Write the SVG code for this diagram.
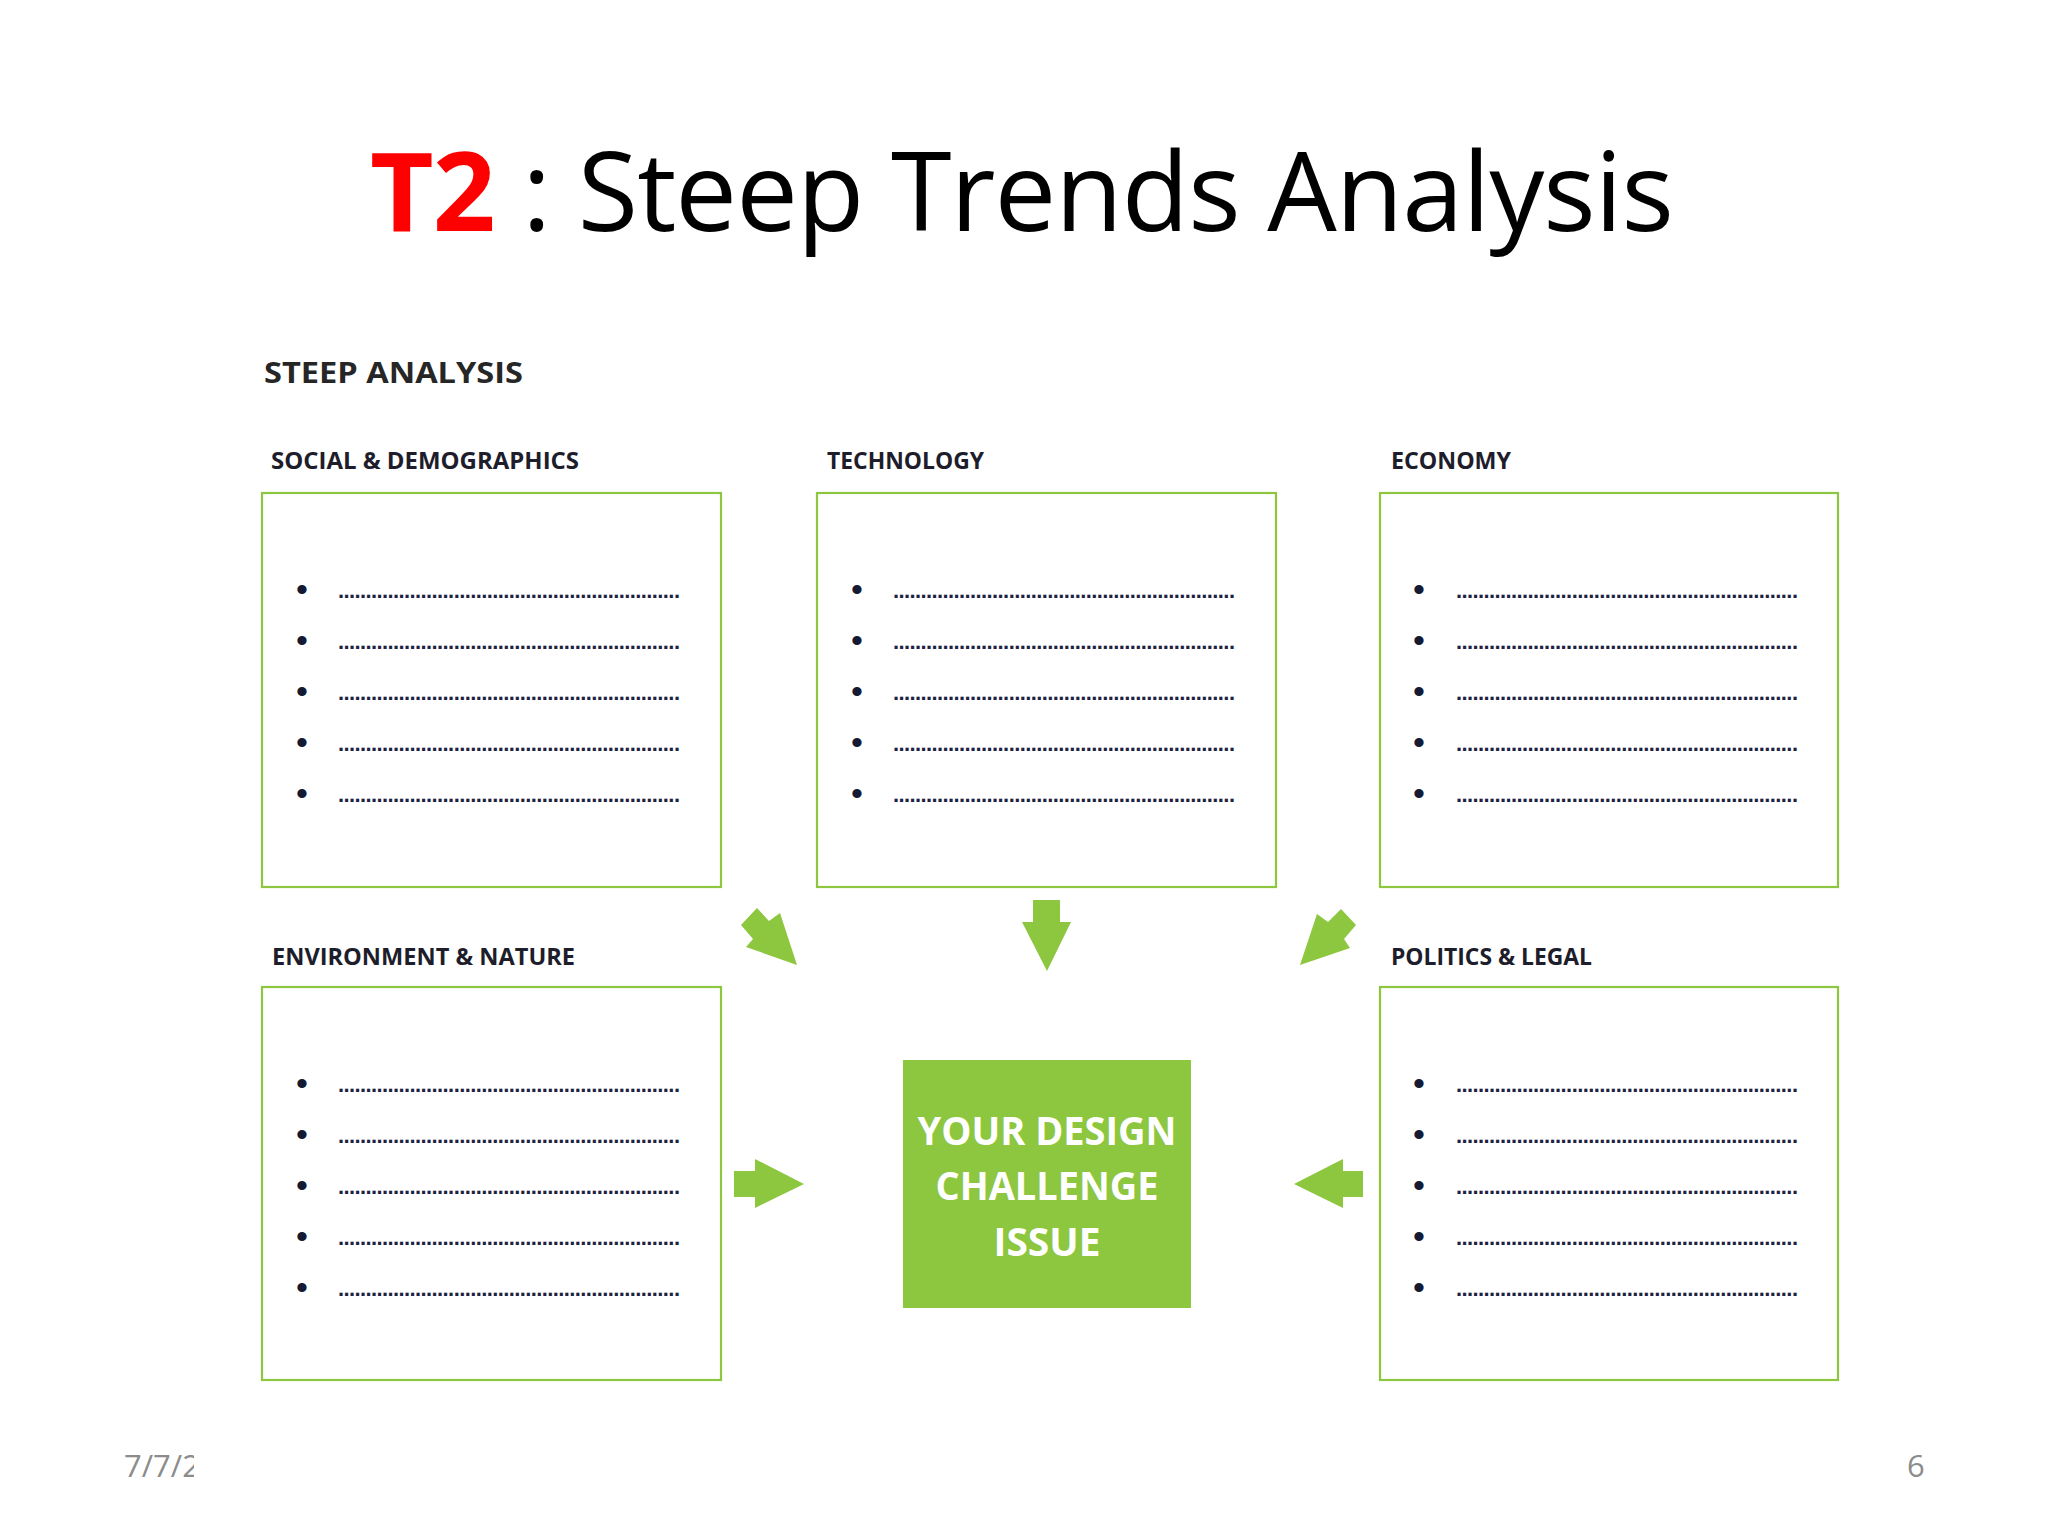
<svg xmlns="http://www.w3.org/2000/svg" width="2048" height="1536" viewBox="0 0 2048 1536">
<defs>
<clipPath id="dateClip"><rect x="100" y="1440" width="94" height="60"/></clipPath>
</defs>
<style>
.box{fill:#ffffff;stroke:#8dc63f;stroke-width:2.2}
.lbl{font-family:"Open Sans","Noto Sans",sans-serif;font-weight:bold;font-size:23px;fill:#1d1d2b}
.bul{font-family:"Liberation Sans",Arial,sans-serif;font-size:34px;fill:#141a33}
.dots{font-family:"Liberation Sans",Arial,sans-serif;font-size:22px;font-weight:bold;fill:#1c2340}
.arrow{fill:#8dc63f}
.ctr{font-family:"Open Sans","Noto Sans",sans-serif;font-weight:bold;font-size:39px;fill:#ffffff;text-anchor:middle}
.foot{font-family:"Open Sans","Noto Sans",sans-serif;font-size:31px;fill:#8c8c8c}
</style>
<rect x="0" y="0" width="2048" height="1536" fill="#ffffff"/>

<g id="title">
<text x="370" y="231" font-family="'Open Sans','Noto Sans',sans-serif" font-size="110" fill="#000000" textLength="1304" lengthAdjust="spacing"><tspan fill="#ff0000" font-weight="bold">T2</tspan> : Steep Trends Analysis</text>
</g>

<g id="heading">
<text x="264" y="383" font-family="'Open Sans','Noto Sans',sans-serif" font-weight="bold" font-size="29" fill="#262626" textLength="259" lengthAdjust="spacingAndGlyphs">STEEP ANALYSIS</text>
</g>

<g id="social">
<text class="lbl" x="271" y="469" textLength="308" lengthAdjust="spacingAndGlyphs">SOCIAL &amp; DEMOGRAPHICS</text>
<rect class="box" x="262" y="493" width="459" height="394"/>
<text class="bul" x="296" y="601">•</text><text class="dots" x="338" y="598" textLength="342" lengthAdjust="spacing">..............................................................</text>
<text class="bul" x="296" y="652">•</text><text class="dots" x="338" y="649" textLength="342" lengthAdjust="spacing">..............................................................</text>
<text class="bul" x="296" y="703">•</text><text class="dots" x="338" y="700" textLength="342" lengthAdjust="spacing">..............................................................</text>
<text class="bul" x="296" y="754">•</text><text class="dots" x="338" y="751" textLength="342" lengthAdjust="spacing">..............................................................</text>
<text class="bul" x="296" y="805">•</text><text class="dots" x="338" y="802" textLength="342" lengthAdjust="spacing">..............................................................</text>
</g>

<g id="technology">
<text class="lbl" x="827" y="469" textLength="157" lengthAdjust="spacingAndGlyphs">TECHNOLOGY</text>
<rect class="box" x="817" y="493" width="459" height="394"/>
<text class="bul" x="851" y="601">•</text><text class="dots" x="893" y="598" textLength="342" lengthAdjust="spacing">..............................................................</text>
<text class="bul" x="851" y="652">•</text><text class="dots" x="893" y="649" textLength="342" lengthAdjust="spacing">..............................................................</text>
<text class="bul" x="851" y="703">•</text><text class="dots" x="893" y="700" textLength="342" lengthAdjust="spacing">..............................................................</text>
<text class="bul" x="851" y="754">•</text><text class="dots" x="893" y="751" textLength="342" lengthAdjust="spacing">..............................................................</text>
<text class="bul" x="851" y="805">•</text><text class="dots" x="893" y="802" textLength="342" lengthAdjust="spacing">..............................................................</text>
</g>

<g id="economy">
<text class="lbl" x="1391" y="469" textLength="120" lengthAdjust="spacingAndGlyphs">ECONOMY</text>
<rect class="box" x="1380" y="493" width="458" height="394"/>
<text class="bul" x="1413" y="601">•</text><text class="dots" x="1456" y="598" textLength="342" lengthAdjust="spacing">..............................................................</text>
<text class="bul" x="1413" y="652">•</text><text class="dots" x="1456" y="649" textLength="342" lengthAdjust="spacing">..............................................................</text>
<text class="bul" x="1413" y="703">•</text><text class="dots" x="1456" y="700" textLength="342" lengthAdjust="spacing">..............................................................</text>
<text class="bul" x="1413" y="754">•</text><text class="dots" x="1456" y="751" textLength="342" lengthAdjust="spacing">..............................................................</text>
<text class="bul" x="1413" y="805">•</text><text class="dots" x="1456" y="802" textLength="342" lengthAdjust="spacing">..............................................................</text>
</g>

<g id="environment">
<text class="lbl" x="272" y="965" textLength="303" lengthAdjust="spacingAndGlyphs">ENVIRONMENT &amp; NATURE</text>
<rect class="box" x="262" y="987" width="459" height="393"/>
<text class="bul" x="296" y="1095">•</text><text class="dots" x="338" y="1092" textLength="342" lengthAdjust="spacing">..............................................................</text>
<text class="bul" x="296" y="1146">•</text><text class="dots" x="338" y="1143" textLength="342" lengthAdjust="spacing">..............................................................</text>
<text class="bul" x="296" y="1197">•</text><text class="dots" x="338" y="1194" textLength="342" lengthAdjust="spacing">..............................................................</text>
<text class="bul" x="296" y="1248">•</text><text class="dots" x="338" y="1245" textLength="342" lengthAdjust="spacing">..............................................................</text>
<text class="bul" x="296" y="1299">•</text><text class="dots" x="338" y="1296" textLength="342" lengthAdjust="spacing">..............................................................</text>
</g>

<g id="politics">
<text class="lbl" x="1391" y="965" textLength="201" lengthAdjust="spacingAndGlyphs">POLITICS &amp; LEGAL</text>
<rect class="box" x="1380" y="987" width="458" height="393"/>
<text class="bul" x="1413" y="1095">•</text><text class="dots" x="1456" y="1092" textLength="342" lengthAdjust="spacing">..............................................................</text>
<text class="bul" x="1413" y="1146">•</text><text class="dots" x="1456" y="1143" textLength="342" lengthAdjust="spacing">..............................................................</text>
<text class="bul" x="1413" y="1197">•</text><text class="dots" x="1456" y="1194" textLength="342" lengthAdjust="spacing">..............................................................</text>
<text class="bul" x="1413" y="1248">•</text><text class="dots" x="1456" y="1245" textLength="342" lengthAdjust="spacing">..............................................................</text>
<text class="bul" x="1413" y="1299">•</text><text class="dots" x="1456" y="1296" textLength="342" lengthAdjust="spacing">..............................................................</text>
</g>

<g id="challenge">
<rect x="903" y="1060" width="288" height="248" fill="#8dc63f"/>
<text class="ctr" x="1047" y="1145" textLength="259" lengthAdjust="spacingAndGlyphs">YOUR DESIGN</text>
<text class="ctr" x="1047" y="1200" textLength="223" lengthAdjust="spacingAndGlyphs">CHALLENGE</text>
<text class="ctr" x="1047" y="1256" textLength="107" lengthAdjust="spacingAndGlyphs">ISSUE</text>
</g>

<g id="connectors">
<polygon class="arrow" points="757,908 769,921 780,913 797,965 746,947 753,939 741,925"/>
<polygon class="arrow" points="1033,900 1060,900 1060,922 1071,922 1047,971 1022,922 1033,922"/>
<polygon class="arrow" points="1341,909 1356,925 1344,939 1350,948 1300,965 1317,914 1328,922"/>
<polygon class="arrow" points="734,1171 755,1171 755,1159 804,1184 755,1208 755,1197 734,1197"/>
<polygon class="arrow" points="1363,1171 1343,1171 1343,1159 1294,1184 1343,1208 1343,1197 1363,1197"/>
</g>

<g id="footer">
<text class="foot" x="124" y="1477" clip-path="url(#dateClip)">7/7/2</text>
<text class="foot" x="1907" y="1477">6</text>
</g>
</svg>
